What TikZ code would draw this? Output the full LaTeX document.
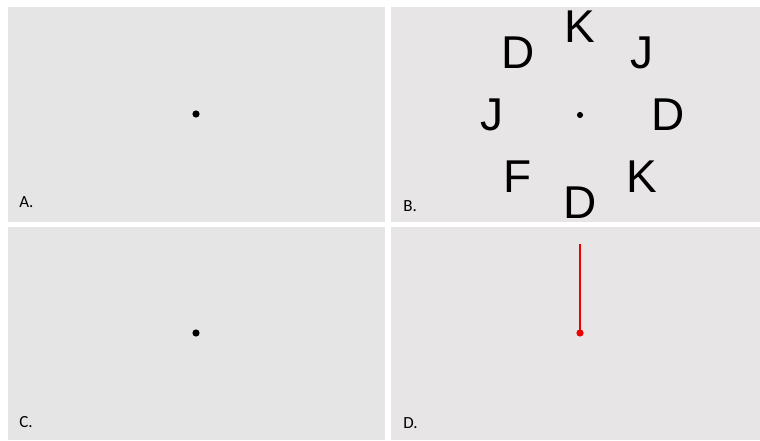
\documentclass[tikz,border=0pt]{standalone}
\usepackage{fontspec}
\newfontfamily\lettersans{Liberation Sans}
\newfontfamily\tagsans{Carlito}
\definecolor{panelgrey}{RGB}{229,229,229}
\definecolor{panelwarm}{RGB}{231,229,230}
\definecolor{fixred}{RGB}{236,0,0}

\begin{document}
\begin{tikzpicture}[
  x=0.75pt, y=-0.75pt,
  panel/.style={fill=panelgrey},
  wpanel/.style={fill=panelwarm},
  fixdot/.style={circle,fill=black,inner sep=0pt,minimum size=5.4pt},
  sfixdot/.style={circle,fill=black,inner sep=0pt,minimum size=4.6pt},
  rfixdot/.style={circle,fill=fixred,inner sep=0pt,minimum size=5.4pt},
  letter/.style={font=\lettersans\fontsize{34.5}{40}\selectfont,inner sep=0pt},
  tag/.style={font=\tagsans\fontsize{12.75}{15}\selectfont,anchor=base west,inner sep=0pt}
]
  \useasboundingbox (0,0) rectangle (760,441);
  \fill[white] (0,0) rectangle (760,441);
  % panels
  \fill[panel] (8,7) rectangle (385,222);
  \fill[wpanel] (391,7) rectangle (760,222);
  \fill[panel] (8,227) rectangle (385,440);
  \fill[wpanel] (391,227) rectangle (760,440);
  % A.
  \node[fixdot] (fa) at (196,114) {};
  \node[tag] (ta) at (19,208) {A.};
  % B.
  \node[sfixdot] (fb) at (580,115) {};
  \node[letter] (l0) at (580,27) {K};
  \node[letter] (l1) at (642,53) {J};
  \node[letter] (l2) at (668,115) {D};
  \node[letter] (l3) at (642,177) {K};
  \node[letter] (l4) at (580,203) {D};
  \node[letter] (l5) at (518,177) {F};
  \node[letter] (l6) at (492,115) {J};
  \node[letter] (l7) at (518,53) {D};
  \node[tag] (tb) at (403,212) {B.};
  % C.
  \node[fixdot] (fc) at (196,333) {};
  \node[tag] (tc) at (19,427) {C.};
  % D.
  \coordinate (cue) at (580,244);
  \draw[fixred,line width=1.9pt] (580,333) -- (cue);
  \node[rfixdot] (fd) at (580,333) {};
  \node[tag] (td) at (403,428) {D.};
\end{tikzpicture}
\end{document}
